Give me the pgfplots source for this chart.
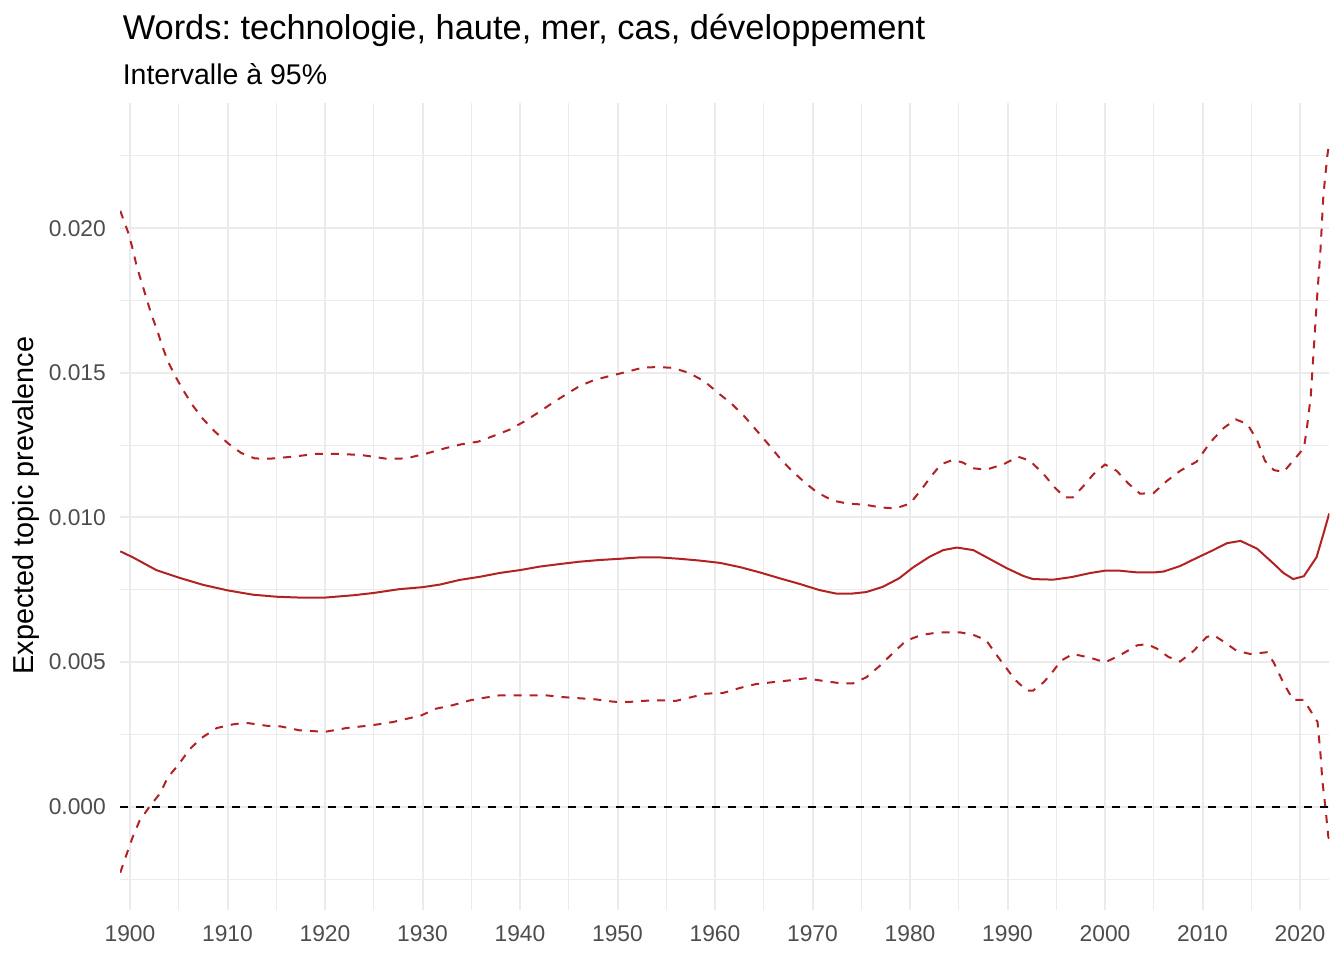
\documentclass[border=0pt]{standalone}
\usepackage{fontspec}
\setmainfont{Liberation Sans}
\usepackage{pgfplots}
\pgfplotsset{compat=1.18}
\definecolor{fire}{HTML}{B22222}
\definecolor{gridc}{HTML}{EBEBEB}
\definecolor{tickc}{HTML}{4D4D4D}
\frenchspacing
\begin{document}
\begin{tikzpicture}
\path[use as bounding box] (0,0) rectangle (672pt,480pt);
\begin{axis}[
  at={(60.125pt,25pt)}, anchor=south west,
  scale only axis, width=604.5pt, height=403.25pt,
  xmin=1899, xmax=2023, ymin=-0.00357, ymax=0.02431,
  axis line style={draw=none},
  major tick length=0pt, minor tick length=0pt,
  xtick={1900,1910,...,2020}, minor xtick={1905,1915,...,2015},
  ytick={0,0.005,0.010,0.015,0.020},
  minor ytick={-0.0025,0.0025,0.0075,0.0125,0.0175,0.0225},
  grid=both,
  major grid style={gridc, line width=1pt},
  minor grid style={gridc, line width=0.5pt},
  scaled y ticks=false, scaled x ticks=false,
  /pgf/number format/assume math mode=true,
  tick label style={font=\fontsize{11.4}{13}\selectfont, text=tickc},
  x tick label style={/pgf/number format/1000 sep={}, anchor=base, inner sep=0pt, yshift=-15.8pt},
  y tick label style={/pgf/number format/fixed, /pgf/number format/fixed zerofill,
     /pgf/number format/precision=3, anchor=east, inner sep=0pt, xshift=-7pt},
]
% upper bound
\addplot[fire, line width=1pt, dash pattern=on 4pt off 4pt, mark=none] coordinates {
(1899,0.02060) (1899.8,0.01986) (1900.2,0.01938) (1900.7,0.01867) (1901.2,0.01812)
(1901.7,0.01756) (1902.2,0.01701) (1902.8,0.01646) (1903.3,0.01593) (1903.9,0.01538)
(1904.8,0.01479) (1905.6,0.01432) (1906.5,0.01384) (1907.5,0.01340) (1908.7,0.01297)
(1910.1,0.01255) (1911.4,0.01223) (1912.8,0.01204) (1914.3,0.01203) (1916.7,0.01210)
(1919.1,0.01220) (1921.5,0.01220) (1923.9,0.01215) (1926.3,0.01203) (1928.3,0.01204)
(1930.4,0.01221) (1932.3,0.01239) (1934,0.01253) (1935.7,0.01262) (1937.3,0.01282)
(1938.9,0.01303) (1940.4,0.01331) (1941.9,0.01363) (1943.2,0.01393) (1944.7,0.01425)
(1946.1,0.01454) (1947.6,0.01475) (1949.2,0.01489) (1950.9,0.01503) (1952.6,0.01518)
(1954.2,0.01520) (1955.7,0.01517) (1957.3,0.01500) (1958.9,0.01471) (1960.3,0.01431)
(1961.7,0.01393) (1963,0.01350) (1964,0.01311) (1965.4,0.01256) (1966.6,0.01207)
(1967.8,0.01164) (1969.2,0.01121) (1970.5,0.01086) (1972.1,0.01058) (1973.6,0.01048)
(1975.4,0.01044) (1976.9,0.01035) (1978.5,0.01031) (1980,0.01048) (1981.2,0.01098)
(1982.2,0.01144) (1983.2,0.01184) (1984.4,0.01199) (1985.4,0.01190) (1986.5,0.01170)
(1987.8,0.01165) (1989.6,0.01184) (1991.1,0.01210) (1992.3,0.01196) (1993.7,0.01150)
(1994.8,0.01105) (1995.9,0.01069) (1996.7,0.01069) (1997.8,0.01109) (1998.8,0.01149)
(2000,0.01183) (2001.2,0.01161) (2002.4,0.01117) (2003.6,0.01082) (2005,0.01085)
(2006.3,0.01125) (2007.7,0.01161) (2009.4,0.01193) (2010.8,0.01260) (2012.2,0.01310)
(2013.4,0.01339) (2014.6,0.01323) (2015.6,0.01267) (2016.4,0.01196) (2017.3,0.01164)
(2018.3,0.01157) (2019.3,0.01196) (2020.4,0.01240) (2020.7,0.01307) (2021.1,0.01418)
(2021.4,0.01576) (2021.7,0.01735) (2022.1,0.01925) (2022.4,0.02115) (2022.8,0.02250)
(2023,0.02297)
};
% estimate
\addplot[fire, line width=1pt, mark=none] coordinates {
(1899,0.00883) (1900.3,0.00862) (1902.7,0.00818) (1905.1,0.00791) (1907.5,0.00767)
(1910,0.00748) (1912.6,0.00733) (1915,0.00726) (1917.4,0.00723) (1920,0.00723)
(1922.9,0.00731) (1925,0.00739) (1927.6,0.00752) (1930,0.00759) (1931.8,0.00768)
(1933.8,0.00784) (1935.9,0.00795) (1937.9,0.00808) (1940,0.00818) (1942,0.00830)
(1944.1,0.00839) (1946.1,0.00847) (1948.2,0.00853) (1950.2,0.00857) (1952.3,0.00862)
(1954.3,0.00862) (1956.4,0.00857) (1958.4,0.00851) (1960.5,0.00843) (1962.6,0.00828)
(1964.6,0.00810) (1966.6,0.00790) (1968.7,0.00770) (1970.7,0.00749) (1972.4,0.00737)
(1974.1,0.00737) (1975.5,0.00742) (1977.2,0.00760) (1978.9,0.00790) (1980.3,0.00827)
(1982,0.00864) (1983.4,0.00887) (1984.8,0.00896) (1986.5,0.00887) (1988.2,0.00856)
(1989.9,0.00825) (1991.6,0.00798) (1992.6,0.00787) (1994.7,0.00785) (1996.6,0.00794)
(1998.5,0.00808) (2000,0.00816) (2001.5,0.00816) (2003.3,0.00810) (2005,0.00810)
(2006,0.00813) (2007.7,0.00832) (2009.4,0.00860) (2011.1,0.00887) (2012.5,0.00911)
(2013.9,0.00919) (2015.6,0.00892) (2017.3,0.00840) (2018.3,0.00808) (2019.3,0.00787)
(2020.4,0.00797) (2021.7,0.00863) (2022.4,0.00943) (2023,0.01014)
};
% lower bound
\addplot[fire, line width=1pt, dash pattern=on 4pt off 4pt, mark=none] coordinates {
(1899,-0.00228) (1899.8,-0.00150) (1900.3,-0.00103) (1901,-0.00047) (1902,0.00000)
(1903.1,0.00047) (1903.9,0.00103) (1904.9,0.00142) (1906.1,0.00198) (1907.3,0.00237)
(1908.9,0.00272) (1910.6,0.00285) (1911.9,0.00290) (1914,0.00280) (1915.4,0.00278)
(1917.4,0.00264) (1920,0.00259) (1922.2,0.00272) (1924.9,0.00282) (1927,0.00293)
(1929.9,0.00316) (1931.4,0.00339) (1933.1,0.00351) (1934.9,0.00368) (1936.4,0.00377)
(1937.9,0.00385) (1940,0.00385) (1942.7,0.00385) (1944.4,0.00379) (1946.1,0.00375)
(1947.8,0.00371) (1949.6,0.00363) (1951.1,0.00362) (1952.6,0.00366) (1954.3,0.00368)
(1956,0.00366) (1957.6,0.00379) (1959.1,0.00391) (1960.8,0.00393) (1962.6,0.00411)
(1964.2,0.00424) (1966.3,0.00432) (1968,0.00438) (1969.3,0.00444) (1971.1,0.00435)
(1972.8,0.00427) (1974.1,0.00426) (1975.5,0.00447) (1976.9,0.00487) (1978.3,0.00533)
(1979.6,0.00574) (1981.2,0.00594) (1983,0.00603) (1985.1,0.00603) (1986.5,0.00594)
(1987.8,0.00576) (1988.7,0.00533) (1989.7,0.00487) (1990.8,0.00438) (1992,0.00401)
(1992.6,0.00401) (1993.7,0.00430) (1994.5,0.00461) (1995.5,0.00505) (1996.7,0.00528)
(1998.5,0.00515) (2000,0.00499) (2001.5,0.00523) (2003.3,0.00558) (2004.3,0.00562)
(2005.3,0.00547) (2006.5,0.00518) (2007.7,0.00502) (2009.1,0.00539) (2010.4,0.00586)
(2011.1,0.00594) (2012.2,0.00570) (2013.5,0.00539) (2014.9,0.00528) (2016.6,0.00534)
(2017.3,0.00499) (2018.3,0.00428) (2019.3,0.00369) (2020.4,0.00369) (2021.2,0.00325)
(2021.8,0.00293) (2022.1,0.00182) (2022.3,0.00087) (2022.6,0.00000) (2022.9,-0.00103)
(2023,-0.00114)
};
% zero reference line
\addplot[black, line width=1pt, dash pattern=on 4pt off 4pt, mark=none] coordinates {(1899,0) (2023,0)};
\end{axis}
\node[anchor=base west, inner sep=0pt, font=\fontsize{17.2}{20}\selectfont] at (61.2pt,460pt) {Words: technologie, haute, mer, cas, développement};
\node[anchor=base west, inner sep=0pt, font=\fontsize{14.25}{17}\selectfont] at (61.2pt,437.5pt) {Intervalle à 95\%};
\node[rotate=90, anchor=base, inner sep=0pt, font=\fontsize{14.4}{17}\selectfont] at (16.67pt,227.25pt) {Expected topic prevalence};
\end{tikzpicture}
\end{document}
